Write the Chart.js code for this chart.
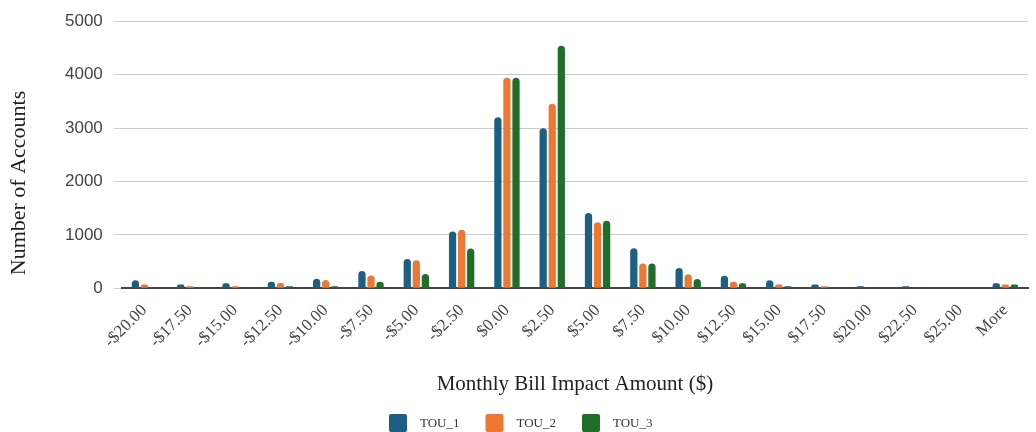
<!DOCTYPE html>
<html>
<head>
<meta charset="utf-8">
<script src="https://cdn.jsdelivr.net/npm/chart.js@4"></script>
<style>
  html, body { margin: 0; padding: 0; background: #fff; }
  #wrap { width: 1036px; height: 432px; }
</style>
</head>
<body>
<div id="wrap"><canvas id="billChart"></canvas></div>
<script>
// categorias do eixo x
const categories = ['-$20.00', '-$17.50', '-$15.00', '-$12.50', '-$10.00', '-$7.50', '-$5.00', '-$2.50',
  '$0.00', '$2.50', '$5.00', '$7.50', '$10.00', '$12.50', '$15.00', '$17.50', '$20.00', '$22.50', '$25.00', 'More'];

// valores
const tou1 = [150, 70, 95, 125, 180, 325, 550, 1065, 3200, 2995, 1410, 750, 380, 235, 150, 70, 38, 38, 5, 95];
const tou2 = [70, 40, 40, 100, 155, 240, 525, 1095, 3940, 3455, 1235, 465, 265, 125, 70, 38, 10, 10, 10, 70];
const tou3 = [5, 3, 5, 40, 40, 125, 270, 745, 3940, 4540, 1265, 465, 175, 95, 38, 5, 5, 3, 5, 70];

const yTicks = [0, 1000, 2000, 3000, 4000, 5000];

const serif = '"Liberation Serif", "Times New Roman", serif';
const sans = '"Liberation Sans", Arial, sans-serif';

function makeSet(label, data, color) {
  return {
    label: label,
    data: data,
    backgroundColor: color,
    borderColor: color,
    borderWidth: 0,
    borderRadius: { topLeft: 4, topRight: 4 },
    borderSkipped: 'bottom',
    categoryPercentage: 0.6,
    barPercentage: 0.8
  };
}

// titulo do eixo y e legenda desenhados à mão, para ficar na mesma posição da imagem
const extrasPlugin = {
  id: 'extras',
  afterDraw(chart) {
    const ctx = chart.ctx;
    ctx.save();
    ctx.translate(19, 183);
    ctx.rotate(-Math.PI / 2);
    ctx.fillStyle = '#222';
    ctx.font = '22px ' + serif;
    ctx.textAlign = 'center';
    ctx.textBaseline = 'middle';
    ctx.fillText('Number of Accounts', 0, 0);
    ctx.restore();

    // legenda
    ctx.save();
    ctx.font = '13px ' + serif;
    ctx.textBaseline = 'middle';
    ctx.textAlign = 'left';
    chart.data.datasets.forEach((ds, i) => {
      const x = 389 + i * 96.5;
      const y = 423;
      ctx.fillStyle = ds.backgroundColor;
      ctx.beginPath();
      ctx.roundRect(x, y - 9, 18, 18, 2);
      ctx.fill();
      ctx.fillStyle = '#333';
      ctx.fillText(ds.label, x + 31, y + 1);
    });
    ctx.restore();
  }
};

new Chart(document.getElementById('billChart'), {
  type: 'bar',
  data: {
    labels: categories,
    datasets: [
      makeSet('TOU_1', tou1, '#1b5f83'),
      makeSet('TOU_2', tou2, '#ee7732'),
      makeSet('TOU_3', tou3, '#1f6f2b')
    ]
  },
  plugins: [extrasPlugin],
  options: {
    responsive: true,
    maintainAspectRatio: false,
    animation: false,
    layout: { padding: { top: 15, right: 8, left: 54, bottom: 35 } },
    plugins: {
      tooltip: { enabled: false },
      legend: { display: false }
    },
    scales: {
      x: {
        grid: { display: false, drawTicks: false },
        border: { color: '#444', width: 2 },
        ticks: {
          maxRotation: 45,
          minRotation: 45,
          autoSkip: false,
          padding: 12,
          color: '#444',
          font: { family: serif, size: 17 }
        },
        title: {
          display: true,
          text: 'Monthly Bill Impact Amount ($)',
          color: '#222',
          font: { family: serif, size: 21 },
          padding: { top: 8, bottom: 0 }
        }
      },
      y: {
        min: 0,
        max: 5000,
        afterBuildTicks: axis => { axis.ticks = yTicks.map(v => ({ value: v })); },
        grid: { color: '#cccccc', lineWidth: 1, tickLength: 8 },
        border: { display: false },
        ticks: {
          padding: 11,
          color: '#444',
          font: { family: sans, size: 17 },
          callback: v => String(v)
        }
      }
    }
  }
});
</script>
</body>
</html>
